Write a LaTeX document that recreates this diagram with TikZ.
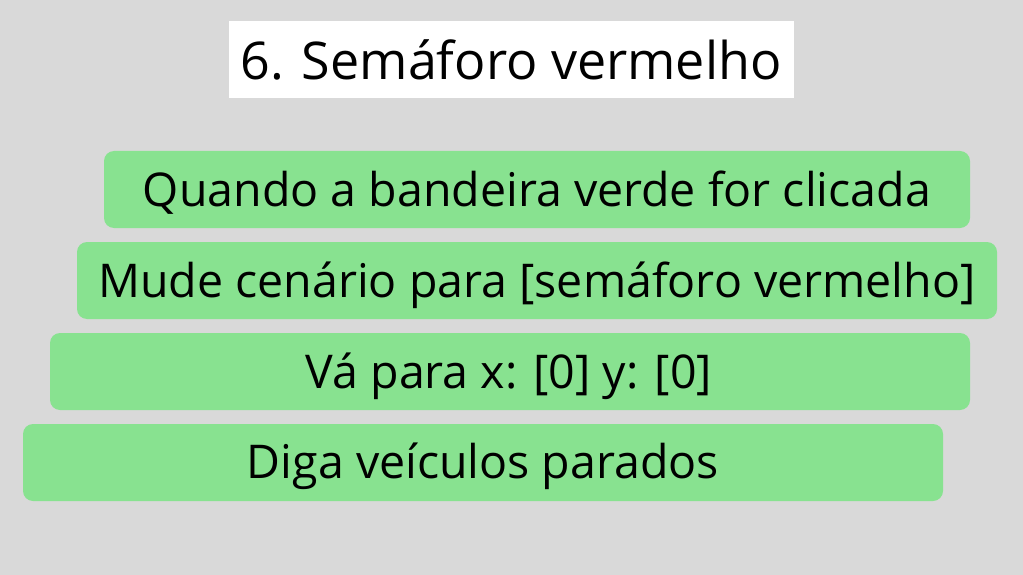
\documentclass[tikz,border=0pt]{standalone}
\usepackage{fontspec}
\setmainfont{Open Sans}
\definecolor{bg}{HTML}{D9D9D9}
\definecolor{blockgreen}{HTML}{88E290}
\begin{document}
\begin{tikzpicture}[x=1pt,y=-1pt,
  block/.style={fill=blockgreen, draw=none, rounded corners=10pt},
  lbl/.style={anchor=base, inner sep=0pt, font=\fontsize{46.5}{50}\selectfont, text=black}]
\fill[bg] (0,0) rectangle (1023,575);
\useasboundingbox (0,0) rectangle (1023,575);
\fill[white] (229,21) rectangle (794,98);
\node[anchor=base, inner sep=0pt, font=\fontsize{52}{56}\selectfont] (title) at (511,80) {6. Semáforo vermelho};
\path[block] (104,151) rectangle (970,228);
\node[lbl] (b1) at (537,206) {Quando a bandeira verde for clicada};
\path[block] (77,242) rectangle (997,319);
\node[lbl] (b2) at (537,297) {Mude cenário para [semáforo vermelho]};
\path[block] (50,333) rectangle (970,410);
\node[lbl] (b3) at (509,388) {Vá para x: [0] y: [0]};
\path[block] (23,424) rectangle (943,501);
\node[lbl] (b4) at (483,478) {Diga veículos parados};
\end{tikzpicture}
\end{document}
